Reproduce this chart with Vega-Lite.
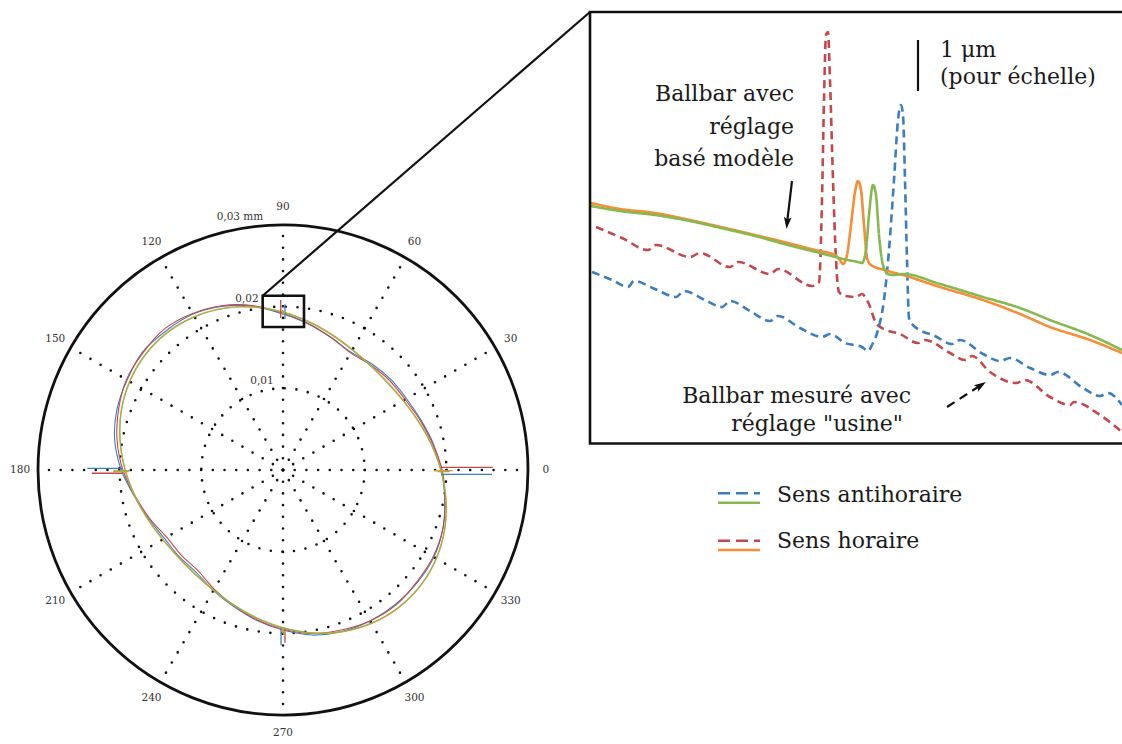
{
"$schema": "https://vega.github.io/schema/vega-lite/v6.json",
"width": 1122, "height": 744, "autosize": {"type": "none"}, "padding": 0,
"background": "white",
"config": {"view": {"stroke": null}, "font": "DejaVu Serif"},
"datasets": {
"polar": [
{"s":"anti_usine","i":0,"x":19.40,"y":0},{"s":"anti_usine","i":1,"x":18.40,"y":3.25},{"s":"anti_usine","i":2,"x":16.88,"y":6.14},{"s":"anti_usine","i":3,"x":15.12,"y":8.73},{"s":"anti_usine","i":4,"x":13.21,"y":11.09},{"s":"anti_usine","i":5,"x":10.89,"y":12.98},{"s":"anti_usine","i":6,"x":8.33,"y":14.43},{"s":"anti_usine","i":7,"x":5.90,"y":16.22},{"s":"anti_usine","i":8,"x":3.15,"y":17.86},{"s":"anti_usine","i":9,"x":0,"y":19.10},{"s":"anti_usine","i":10,"x":-3.54,"y":20.02},{"s":"anti_usine","i":11,"x":-7.30,"y":20.06},{"s":"anti_usine","i":12,"x":-11.02,"y":19.09},{"s":"anti_usine","i":13,"x":-14.31,"y":17.05},{"s":"anti_usine","i":14,"x":-17.20,"y":14.44},{"s":"anti_usine","i":15,"x":-19.09,"y":11.02},{"s":"anti_usine","i":16,"x":-20.34,"y":7.40},{"s":"anti_usine","i":17,"x":-20.61,"y":3.64},{"s":"anti_usine","i":18,"x":-19.80,"y":0},{"s":"anti_usine","i":19,"x":-18.20,"y":-3.22},{"s":"anti_usine","i":20,"x":-16.41,"y":-5.97},{"s":"anti_usine","i":21,"x":-14.51,"y":-8.38},{"s":"anti_usine","i":22,"x":-12.67,"y":-10.64},{"s":"anti_usine","i":23,"x":-10.57,"y":-12.59},{"s":"anti_usine","i":24,"x":-8.53,"y":-14.77},{"s":"anti_usine","i":25,"x":-6.07,"y":-16.69},{"s":"anti_usine","i":26,"x":-3.25,"y":-18.40},{"s":"anti_usine","i":27,"x":0,"y":-19.60},{"s":"anti_usine","i":28,"x":3.57,"y":-20.21},{"s":"anti_usine","i":29,"x":7.20,"y":-19.78},{"s":"anti_usine","i":30,"x":10.67,"y":-18.48},{"s":"anti_usine","i":31,"x":13.80,"y":-16.44},{"s":"anti_usine","i":32,"x":16.44,"y":-13.80},{"s":"anti_usine","i":33,"x":18.48,"y":-10.67},{"s":"anti_usine","i":34,"x":19.59,"y":-7.13},{"s":"anti_usine","i":35,"x":19.82,"y":-3.50},
{"s":"hor_usine","i":0,"x":19.50,"y":0},{"s":"hor_usine","i":1,"x":18.30,"y":3.23},{"s":"hor_usine","i":2,"x":16.79,"y":6.11},{"s":"hor_usine","i":3,"x":14.95,"y":8.63},{"s":"hor_usine","i":4,"x":13.05,"y":10.96},{"s":"hor_usine","i":5,"x":10.76,"y":12.82},{"s":"hor_usine","i":6,"x":8.28,"y":14.34},{"s":"hor_usine","i":7,"x":5.90,"y":16.22},{"s":"hor_usine","i":8,"x":3.16,"y":17.91},{"s":"hor_usine","i":9,"x":0,"y":19.20},{"s":"hor_usine","i":10,"x":-3.55,"y":20.11},{"s":"hor_usine","i":11,"x":-7.33,"y":20.15},{"s":"hor_usine","i":12,"x":-11.07,"y":19.17},{"s":"hor_usine","i":13,"x":-14.51,"y":17.28},{"s":"hor_usine","i":14,"x":-17.13,"y":14.38},{"s":"hor_usine","i":15,"x":-19.17,"y":11.07},{"s":"hor_usine","i":16,"x":-20.15,"y":7.33},{"s":"hor_usine","i":17,"x":-20.31,"y":3.59},{"s":"hor_usine","i":18,"x":-19.60,"y":0},{"s":"hor_usine","i":19,"x":-18.10,"y":-3.20},{"s":"hor_usine","i":20,"x":-16.32,"y":-5.94},{"s":"hor_usine","i":21,"x":-14.25,"y":-8.23},{"s":"hor_usine","i":22,"x":-12.44,"y":-10.44},{"s":"hor_usine","i":23,"x":-10.38,"y":-12.36},{"s":"hor_usine","i":24,"x":-8.43,"y":-14.60},{"s":"hor_usine","i":25,"x":-6.04,"y":-16.60},{"s":"hor_usine","i":26,"x":-3.23,"y":-18.30},{"s":"hor_usine","i":27,"x":0,"y":-19.50},{"s":"hor_usine","i":28,"x":3.54,"y":-20.02},{"s":"hor_usine","i":29,"x":7.13,"y":-19.59},{"s":"hor_usine","i":30,"x":10.67,"y":-18.48},{"s":"hor_usine","i":31,"x":13.86,"y":-16.52},{"s":"hor_usine","i":32,"x":16.36,"y":-13.73},{"s":"hor_usine","i":33,"x":18.39,"y":-10.62},{"s":"hor_usine","i":34,"x":19.59,"y":-7.13},{"s":"hor_usine","i":35,"x":19.82,"y":-3.50},
{"s":"hor_modele","i":0,"x":19.35,"y":0},{"s":"hor_modele","i":1,"x":18.15,"y":3.25},{"s":"hor_modele","i":2,"x":16.56,"y":6.06},{"s":"hor_modele","i":3,"x":14.74,"y":8.53},{"s":"hor_modele","i":4,"x":12.80,"y":10.75},{"s":"hor_modele","i":5,"x":10.75,"y":12.80},{"s":"hor_modele","i":6,"x":8.53,"y":14.74},{"s":"hor_modele","i":7,"x":6.06,"y":16.56},{"s":"hor_modele","i":8,"x":3.25,"y":18.15},{"s":"hor_modele","i":9,"x":0,"y":19.35},{"s":"hor_modele","i":10,"x":-3.57,"y":19.97},{"s":"hor_modele","i":11,"x":-7.25,"y":19.83},{"s":"hor_modele","i":12,"x":-10.87,"y":18.79},{"s":"hor_modele","i":13,"x":-14.17,"y":16.87},{"s":"hor_modele","i":14,"x":-16.87,"y":14.17},{"s":"hor_modele","i":15,"x":-18.79,"y":10.87},{"s":"hor_modele","i":16,"x":-19.83,"y":7.25},{"s":"hor_modele","i":17,"x":-19.97,"y":3.57},{"s":"hor_modele","i":18,"x":-19.35,"y":0},{"s":"hor_modele","i":19,"x":-18.15,"y":-3.25},{"s":"hor_modele","i":20,"x":-16.56,"y":-6.06},{"s":"hor_modele","i":21,"x":-14.74,"y":-8.53},{"s":"hor_modele","i":22,"x":-12.80,"y":-10.75},{"s":"hor_modele","i":23,"x":-10.75,"y":-12.80},{"s":"hor_modele","i":24,"x":-8.53,"y":-14.74},{"s":"hor_modele","i":25,"x":-6.06,"y":-16.56},{"s":"hor_modele","i":26,"x":-3.25,"y":-18.15},{"s":"hor_modele","i":27,"x":0,"y":-19.35},{"s":"hor_modele","i":28,"x":3.57,"y":-19.97},{"s":"hor_modele","i":29,"x":7.25,"y":-19.83},{"s":"hor_modele","i":30,"x":10.87,"y":-18.79},{"s":"hor_modele","i":31,"x":14.17,"y":-16.87},{"s":"hor_modele","i":32,"x":16.87,"y":-14.17},{"s":"hor_modele","i":33,"x":18.79,"y":-10.87},{"s":"hor_modele","i":34,"x":19.83,"y":-7.25},{"s":"hor_modele","i":35,"x":19.97,"y":-3.57},
{"s":"anti_modele","i":0,"x":19.30,"y":0},{"s":"anti_modele","i":1,"x":18.10,"y":3.20},{"s":"anti_modele","i":2,"x":16.51,"y":6.01},{"s":"anti_modele","i":3,"x":14.69,"y":8.48},{"s":"anti_modele","i":4,"x":12.75,"y":10.70},{"s":"anti_modele","i":5,"x":10.70,"y":12.75},{"s":"anti_modele","i":6,"x":8.48,"y":14.69},{"s":"anti_modele","i":7,"x":6.01,"y":16.51},{"s":"anti_modele","i":8,"x":3.20,"y":18.10},{"s":"anti_modele","i":9,"x":0,"y":19.30},{"s":"anti_modele","i":10,"x":-3.52,"y":19.92},{"s":"anti_modele","i":11,"x":-7.20,"y":19.78},{"s":"anti_modele","i":12,"x":-10.82,"y":18.74},{"s":"anti_modele","i":13,"x":-14.12,"y":16.82},{"s":"anti_modele","i":14,"x":-16.82,"y":14.12},{"s":"anti_modele","i":15,"x":-18.74,"y":10.82},{"s":"anti_modele","i":16,"x":-19.78,"y":7.20},{"s":"anti_modele","i":17,"x":-19.92,"y":3.52},{"s":"anti_modele","i":18,"x":-19.30,"y":0},{"s":"anti_modele","i":19,"x":-18.10,"y":-3.20},{"s":"anti_modele","i":20,"x":-16.51,"y":-6.01},{"s":"anti_modele","i":21,"x":-14.69,"y":-8.48},{"s":"anti_modele","i":22,"x":-12.75,"y":-10.70},{"s":"anti_modele","i":23,"x":-10.70,"y":-12.75},{"s":"anti_modele","i":24,"x":-8.48,"y":-14.69},{"s":"anti_modele","i":25,"x":-6.01,"y":-16.51},{"s":"anti_modele","i":26,"x":-3.20,"y":-18.10},{"s":"anti_modele","i":27,"x":0,"y":-19.30},{"s":"anti_modele","i":28,"x":3.52,"y":-19.92},{"s":"anti_modele","i":29,"x":7.20,"y":-19.78},{"s":"anti_modele","i":30,"x":10.82,"y":-18.74},{"s":"anti_modele","i":31,"x":14.12,"y":-16.82},{"s":"anti_modele","i":32,"x":16.82,"y":-14.12},{"s":"anti_modele","i":33,"x":18.74,"y":-10.82},{"s":"anti_modele","i":34,"x":19.78,"y":-7.20},{"s":"anti_modele","i":35,"x":19.92,"y":-3.52}
],
"spikes": [
{"s":"hor_usine","x1":19.45,"y1":0.33,"x2":25.7,"y2":0.33},
{"s":"anti_usine","x1":19.4,"y1":-0.53,"x2":25.6,"y2":-0.53},
{"s":"hor_modele","x1":18.5,"y1":-0.08,"x2":20.8,"y2":-0.08},
{"s":"anti_modele","x1":18.9,"y1":-0.2,"x2":20.4,"y2":-0.2},
{"s":"anti_usine","x1":-19.6,"y1":0.21,"x2":-23.96,"y2":0.21},
{"s":"hor_usine","x1":-19.55,"y1":-0.4,"x2":-23.42,"y2":-0.4},
{"s":"hor_modele","x1":-18.9,"y1":-0.2,"x2":-20.8,"y2":-0.2},
{"s":"anti_modele","x1":-18.73,"y1":-0.09,"x2":-20.78,"y2":-0.09},
{"s":"hor_usine","x1":-0.28,"y1":18.6,"x2":-0.28,"y2":20.82},
{"s":"anti_usine","x1":0.24,"y1":18.5,"x2":0.24,"y2":20.29},
{"s":"hor_modele","x1":-0.04,"y1":19.0,"x2":-0.04,"y2":19.59},
{"s":"anti_modele","x1":0.12,"y1":19.0,"x2":0.12,"y2":19.55},
{"s":"anti_usine","x1":-0.24,"y1":-19.5,"x2":-0.24,"y2":-21.43},
{"s":"hor_usine","x1":0.24,"y1":-19.4,"x2":0.24,"y2":-21.15},
{"s":"hor_modele","x1":-0.05,"y1":-19.3,"x2":-0.05,"y2":-20.0},
{"s":"anti_modele","x1":0.1,"y1":-19.3,"x2":0.1,"y2":-20.2}
],
"spokes": [
{"a":0,"x1":0,"y1":0,"x2":30,"y2":0},{"a":30,"x1":0,"y1":0,"x2":25.98,"y2":15},{"a":60,"x1":0,"y1":0,"x2":15,"y2":25.98},{"a":90,"x1":0,"y1":0,"x2":0,"y2":30},{"a":120,"x1":0,"y1":0,"x2":-15,"y2":25.98},{"a":150,"x1":0,"y1":0,"x2":-25.98,"y2":15},{"a":180,"x1":0,"y1":0,"x2":-30,"y2":0},{"a":210,"x1":0,"y1":0,"x2":-25.98,"y2":-15},{"a":240,"x1":0,"y1":0,"x2":-15,"y2":-25.98},{"a":270,"x1":0,"y1":0,"x2":0,"y2":-30},{"a":300,"x1":0,"y1":0,"x2":15,"y2":-25.98},{"a":330,"x1":0,"y1":0,"x2":25.98,"y2":-15}
],
"polarText": [
{"t":"0","x":32.2,"y":0},{"t":"30","x":27.89,"y":16.1},{"t":"60","x":16.1,"y":27.89},{"t":"90","x":0,"y":32.2},{"t":"120","x":-16.1,"y":27.89},{"t":"150","x":-27.89,"y":16.1},{"t":"180","x":-32.2,"y":0},{"t":"210","x":-27.89,"y":-16.1},{"t":"240","x":-16.1,"y":-27.89},{"t":"270","x":0,"y":-32.2},{"t":"300","x":16.1,"y":-27.89},{"t":"330","x":27.89,"y":-16.1},
{"t":"0,03 mm","x":-5.27,"y":30.98},{"t":"0,02","x":-4.41,"y":20.94},{"t":"0,01","x":-2.57,"y":10.9}
],
"inset": [
{"s":"hor_usine","i":0,"x":0.12,"y":4.32},{"s":"hor_usine","i":1,"x":0.64,"y":4.10},{"s":"hor_usine","i":2,"x":1.16,"y":3.86},{"s":"hor_usine","i":3,"x":1.32,"y":3.96},{"s":"hor_usine","i":4,"x":2.00,"y":3.72},{"s":"hor_usine","i":5,"x":2.20,"y":3.80},{"s":"hor_usine","i":6,"x":2.80,"y":3.52},{"s":"hor_usine","i":7,"x":2.96,"y":3.62},{"s":"hor_usine","i":8,"x":3.60,"y":3.38},{"s":"hor_usine","i":9,"x":3.76,"y":3.48},{"s":"hor_usine","i":10,"x":4.44,"y":3.14},{"s":"hor_usine","i":11,"x":4.58,"y":3.22},{"s":"hor_usine","i":12,"x":4.64,"y":4.86},{"s":"hor_usine","i":13,"x":4.68,"y":6.86},{"s":"hor_usine","i":14,"x":4.72,"y":8.16},{"s":"hor_usine","i":15,"x":4.76,"y":8.22},{"s":"hor_usine","i":16,"x":4.80,"y":7.26},{"s":"hor_usine","i":17,"x":4.86,"y":5.26},{"s":"hor_usine","i":18,"x":4.92,"y":3.66},{"s":"hor_usine","i":19,"x":4.98,"y":3.02},{"s":"hor_usine","i":20,"x":5.10,"y":2.94},{"s":"hor_usine","i":21,"x":5.32,"y":2.92},{"s":"hor_usine","i":22,"x":5.44,"y":2.98},{"s":"hor_usine","i":23,"x":5.56,"y":2.82},{"s":"hor_usine","i":24,"x":5.72,"y":2.40},{"s":"hor_usine","i":25,"x":5.84,"y":2.30},{"s":"hor_usine","i":26,"x":6.20,"y":2.18},{"s":"hor_usine","i":27,"x":6.56,"y":2.00},{"s":"hor_usine","i":28,"x":6.70,"y":2.06},{"s":"hor_usine","i":29,"x":7.20,"y":1.80},{"s":"hor_usine","i":30,"x":7.50,"y":1.66},{"s":"hor_usine","i":31,"x":7.64,"y":1.74},{"s":"hor_usine","i":32,"x":8.00,"y":1.42},{"s":"hor_usine","i":33,"x":8.52,"y":1.20},{"s":"hor_usine","i":34,"x":8.70,"y":1.26},{"s":"hor_usine","i":35,"x":9.20,"y":0.92},{"s":"hor_usine","i":36,"x":9.60,"y":0.76},{"s":"hor_usine","i":37,"x":9.68,"y":0.82},{"s":"hor_usine","i":38,"x":10.20,"y":0.56},{"s":"hor_usine","i":39,"x":10.64,"y":0.22},
{"s":"anti_usine","i":0,"x":0.04,"y":3.42},{"s":"anti_usine","i":1,"x":0.44,"y":3.26},{"s":"anti_usine","i":2,"x":0.76,"y":3.12},{"s":"anti_usine","i":3,"x":0.88,"y":3.24},{"s":"anti_usine","i":4,"x":1.30,"y":3.08},{"s":"anti_usine","i":5,"x":1.72,"y":2.92},{"s":"anti_usine","i":6,"x":1.88,"y":3.04},{"s":"anti_usine","i":7,"x":2.30,"y":2.86},{"s":"anti_usine","i":8,"x":2.64,"y":2.72},{"s":"anti_usine","i":9,"x":2.80,"y":2.84},{"s":"anti_usine","i":10,"x":3.20,"y":2.64},{"s":"anti_usine","i":11,"x":3.60,"y":2.44},{"s":"anti_usine","i":12,"x":3.76,"y":2.54},{"s":"anti_usine","i":13,"x":4.20,"y":2.30},{"s":"anti_usine","i":14,"x":4.64,"y":2.12},{"s":"anti_usine","i":15,"x":4.80,"y":2.18},{"s":"anti_usine","i":16,"x":5.10,"y":2.00},{"s":"anti_usine","i":17,"x":5.44,"y":1.92},{"s":"anti_usine","i":18,"x":5.56,"y":1.84},{"s":"anti_usine","i":19,"x":5.64,"y":1.96},{"s":"anti_usine","i":20,"x":5.76,"y":2.26},{"s":"anti_usine","i":21,"x":5.88,"y":2.86},{"s":"anti_usine","i":22,"x":5.98,"y":3.86},{"s":"anti_usine","i":23,"x":6.08,"y":5.26},{"s":"anti_usine","i":24,"x":6.16,"y":6.46},{"s":"anti_usine","i":25,"x":6.22,"y":6.76},{"s":"anti_usine","i":26,"x":6.26,"y":6.56},{"s":"anti_usine","i":27,"x":6.30,"y":5.26},{"s":"anti_usine","i":28,"x":6.34,"y":3.66},{"s":"anti_usine","i":29,"x":6.38,"y":2.50},{"s":"anti_usine","i":30,"x":6.48,"y":2.34},{"s":"anti_usine","i":31,"x":6.90,"y":2.14},{"s":"anti_usine","i":32,"x":7.24,"y":1.98},{"s":"anti_usine","i":33,"x":7.40,"y":2.06},{"s":"anti_usine","i":34,"x":7.86,"y":1.78},{"s":"anti_usine","i":35,"x":8.20,"y":1.64},{"s":"anti_usine","i":36,"x":8.40,"y":1.70},{"s":"anti_usine","i":37,"x":8.80,"y":1.50},{"s":"anti_usine","i":38,"x":9.20,"y":1.36},{"s":"anti_usine","i":39,"x":9.36,"y":1.42},{"s":"anti_usine","i":40,"x":9.86,"y":1.10},{"s":"anti_usine","i":41,"x":10.20,"y":0.94},{"s":"anti_usine","i":42,"x":10.36,"y":1.00},{"s":"anti_usine","i":43,"x":10.64,"y":0.76},
{"s":"hor_modele","i":0,"x":0.02,"y":4.80},{"s":"hor_modele","i":1,"x":0.60,"y":4.68},{"s":"hor_modele","i":2,"x":1.30,"y":4.60},{"s":"hor_modele","i":3,"x":2.00,"y":4.46},{"s":"hor_modele","i":4,"x":2.62,"y":4.32},{"s":"hor_modele","i":5,"x":3.30,"y":4.16},{"s":"hor_modele","i":6,"x":3.96,"y":4.00},{"s":"hor_modele","i":7,"x":4.50,"y":3.86},{"s":"hor_modele","i":8,"x":4.90,"y":3.76},{"s":"hor_modele","i":9,"x":5.00,"y":3.66},{"s":"hor_modele","i":10,"x":5.06,"y":3.58},{"s":"hor_modele","i":11,"x":5.14,"y":3.76},{"s":"hor_modele","i":12,"x":5.22,"y":4.36},{"s":"hor_modele","i":13,"x":5.30,"y":5.02},{"s":"hor_modele","i":14,"x":5.36,"y":5.24},{"s":"hor_modele","i":15,"x":5.42,"y":5.06},{"s":"hor_modele","i":16,"x":5.48,"y":4.36},{"s":"hor_modele","i":17,"x":5.54,"y":3.70},{"s":"hor_modele","i":18,"x":5.62,"y":3.56},{"s":"hor_modele","i":19,"x":5.90,"y":3.46},{"s":"hor_modele","i":20,"x":6.26,"y":3.36},{"s":"hor_modele","i":21,"x":7.00,"y":3.12},{"s":"hor_modele","i":22,"x":7.86,"y":2.86},{"s":"hor_modele","i":23,"x":8.60,"y":2.58},{"s":"hor_modele","i":24,"x":9.20,"y":2.32},{"s":"hor_modele","i":25,"x":10.00,"y":2.06},{"s":"hor_modele","i":26,"x":10.64,"y":1.80},
{"s":"anti_modele","i":0,"x":0.02,"y":4.74},{"s":"anti_modele","i":1,"x":0.60,"y":4.64},{"s":"anti_modele","i":2,"x":1.30,"y":4.56},{"s":"anti_modele","i":3,"x":2.00,"y":4.44},{"s":"anti_modele","i":4,"x":2.62,"y":4.30},{"s":"anti_modele","i":5,"x":3.30,"y":4.14},{"s":"anti_modele","i":6,"x":3.96,"y":3.96},{"s":"anti_modele","i":7,"x":4.60,"y":3.80},{"s":"anti_modele","i":8,"x":5.16,"y":3.66},{"s":"anti_modele","i":9,"x":5.36,"y":3.62},{"s":"anti_modele","i":10,"x":5.44,"y":3.60},{"s":"anti_modele","i":11,"x":5.52,"y":3.86},{"s":"anti_modele","i":12,"x":5.58,"y":4.56},{"s":"anti_modele","i":13,"x":5.66,"y":5.16},{"s":"anti_modele","i":14,"x":5.72,"y":4.96},{"s":"anti_modele","i":15,"x":5.78,"y":4.16},{"s":"anti_modele","i":16,"x":5.86,"y":3.56},{"s":"anti_modele","i":17,"x":5.96,"y":3.38},{"s":"anti_modele","i":18,"x":6.08,"y":3.36},{"s":"anti_modele","i":19,"x":6.26,"y":3.38},{"s":"anti_modele","i":20,"x":7.00,"y":3.18},{"s":"anti_modele","i":21,"x":7.86,"y":2.92},{"s":"anti_modele","i":22,"x":8.60,"y":2.70},{"s":"anti_modele","i":23,"x":9.20,"y":2.46},{"s":"anti_modele","i":24,"x":10.00,"y":2.16},{"s":"anti_modele","i":25,"x":10.64,"y":1.86}
],
"legendRows": [
{"s":"anti_usine","x1":2.56,"x2":3.40,"y":-1.006},
{"s":"anti_modele","x1":2.56,"x2":3.40,"y":-1.194},
{"s":"hor_usine","x1":2.56,"x2":3.40,"y":-1.954},
{"s":"hor_modele","x1":2.56,"x2":3.40,"y":-2.14}
]
},
"layer": [
{
"layer": [
{"data": {"values": [{"r":10,"x":0,"y":0},{"r":20,"x":0,"y":0}]},
 "mark": {"type":"point","shape":"circle","filled":false,"opacity":1,"color":"#111","strokeWidth":2.6,"strokeDash":[0,11.7],"strokeCap":"round"},
 "encoding": {"x":{"field":"x","type":"quantitative","scale":{"domain":[-30,30],"range":[38,528],"nice":false},"axis":null},
  "y":{"field":"y","type":"quantitative","scale":{"domain":[-30,30],"range":[715,225],"nice":false},"axis":null},
  "size":{"field":"r","type":"quantitative","scale":{"type":"pow","exponent":2,"domain":[0,30],"range":[0,240100]},"legend":null}}},
{"data": {"values": [{"r":30,"x":0,"y":0}]},
 "mark": {"type":"point","shape":"circle","filled":false,"opacity":1,"color":"#111","strokeWidth":2.8},
 "encoding": {"x":{"field":"x","type":"quantitative","axis":null},"y":{"field":"y","type":"quantitative","axis":null},
  "size":{"field":"r","type":"quantitative","legend":null}}},
{"data": {"name":"spokes"},
 "mark": {"type":"rule","color":"#111","strokeWidth":2.6,"strokeDash":[0,11.7],"strokeCap":"round"},
 "encoding": {"x":{"field":"x1","type":"quantitative","axis":null},"y":{"field":"y1","type":"quantitative","axis":null},"x2":{"field":"x2"},"y2":{"field":"y2"}}},
{"data": {"name":"polarText"},
 "mark": {"type":"text","font":"DejaVu Serif","fontSize":10.5,"color":"#333","align":"center","baseline":"middle"},
 "encoding": {"x":{"field":"x","type":"quantitative","axis":null},"y":{"field":"y","type":"quantitative","axis":null},"text":{"field":"t"}}},
{"data": {"name":"polar"},
 "mark": {"type":"line","interpolate":"cardinal-closed","strokeWidth":1.1},
 "encoding": {"x":{"field":"x","type":"quantitative","axis":null},"y":{"field":"y","type":"quantitative","axis":null},"order":{"field":"i"},
  "color":{"field":"s","type":"nominal","scale":{"domain":["anti_usine","hor_usine","anti_modele","hor_modele"],"range":["#3b7dc0","#c4474b","#85b94f","#f98c35"]},"legend":null}}},
{"data": {"name":"spikes"},
 "mark": {"type":"rule","strokeWidth":1.3},
 "encoding": {"x":{"field":"x1","type":"quantitative","axis":null},"y":{"field":"y1","type":"quantitative","axis":null},"x2":{"field":"x2"},"y2":{"field":"y2"},
  "color":{"field":"s","type":"nominal","legend":null}}},
{"data": {"values": [{"x1":-2.49,"x2":2.57,"y1":17.51,"y2":21.34}]},
 "mark": {"type":"rect","filled":false,"color":"#111","strokeWidth":2.6},
 "encoding": {"x":{"field":"x1","type":"quantitative","axis":null},"y":{"field":"y1","type":"quantitative","axis":null},"x2":{"field":"x2"},"y2":{"field":"y2"}}},
{"data": {"values": [{"x1":-2.49,"y1":21.34,"x2":37.59,"y2":56.08}]},
 "mark": {"type":"rule","color":"#111","strokeWidth":2.2},
 "encoding": {"x":{"field":"x1","type":"quantitative","axis":null},"y":{"field":"y1","type":"quantitative","axis":null},"x2":{"field":"x2"},"y2":{"field":"y2"}}}
]
},
{
"layer": [
{"data": {"name":"inset"},
 "mark": {"type":"line","interpolate":"monotone","strokeWidth":2.6},
 "encoding": {"x":{"field":"x","type":"quantitative","scale":{"domain":[0,10.64],"range":[590,1122],"nice":false},"axis":null},
  "y":{"field":"y","type":"quantitative","scale":{"domain":[0,8.62],"range":[443,12],"nice":false},"axis":null},
  "order":{"field":"i"},
  "color":{"field":"s","type":"nominal","legend":null},
  "strokeDash":{"field":"s","type":"nominal","scale":{"domain":["anti_usine","hor_usine","anti_modele","hor_modele"],"range":[[8,5],[8,5],[1,0],[1,0]]},"legend":null}}},
{"data": {"values": [{"x1":0,"x2":10.7,"y1":-0.01,"y2":8.62}]},
 "mark": {"type":"rect","filled":false,"color":"#111","strokeWidth":2.6},
 "encoding": {"x":{"field":"x1","type":"quantitative","axis":null},"y":{"field":"y1","type":"quantitative","axis":null},"x2":{"field":"x2"},"y2":{"field":"y2"}}},
{"data": {"values": [{"x":6.56,"y1":7.04,"y2":8.06}]},
 "mark": {"type":"rule","color":"#111","strokeWidth":2.2},
 "encoding": {"x":{"field":"x","type":"quantitative","axis":null},"y":{"field":"y1","type":"quantitative","axis":null},"y2":{"field":"y2"}}},
{"data": {"values": [{"t":"Ballbar avec\nréglage\nbasé modèle","x":4.08,"y":6.84},{"t":"Ballbar mesuré avec","x":6.42,"y":0.806},{"t":"réglage \"usine\"","x":6.26,"y":0.24}]},
 "mark": {"type":"text","font":"DejaVu Serif","fontSize":22,"lineBreak":"\n","lineHeight":32.5,"color":"#1a1a1a","align":"right","baseline":"alphabetic"},
 "encoding": {"x":{"field":"x","type":"quantitative","axis":null},"y":{"field":"y","type":"quantitative","axis":null},"text":{"field":"t"}}},
{"data": {"values": [{"t":"1 μm\n(pour échelle)","x":7.0,"y":7.73},{"t":"Sens antihoraire","x":3.74,"y":-1.174},{"t":"Sens horaire","x":3.74,"y":-2.094}]},
 "mark": {"type":"text","font":"DejaVu Serif","fontSize":22,"lineBreak":"\n","lineHeight":27.5,"color":"#1a1a1a","align":"left","baseline":"alphabetic"},
 "encoding": {"x":{"field":"x","type":"quantitative","axis":null},"y":{"field":"y","type":"quantitative","axis":null},"text":{"field":"t"}}},
{"data": {"values": [{"x1":4.04,"y1":5.24,"x2":3.945,"y2":4.44}]},
 "mark": {"type":"rule","color":"#111","strokeWidth":2.2},
 "encoding": {"x":{"field":"x1","type":"quantitative","axis":null},"y":{"field":"y1","type":"quantitative","axis":null},"x2":{"field":"x2"},"y2":{"field":"y2"}}},
{"data": {"values": [{"x1":7.14,"y1":0.72,"x2":7.76,"y2":1.12}]},
 "mark": {"type":"rule","color":"#111","strokeWidth":2.2,"strokeDash":[9,6]},
 "encoding": {"x":{"field":"x1","type":"quantitative","axis":null},"y":{"field":"y1","type":"quantitative","axis":null},"x2":{"field":"x2"},"y2":{"field":"y2"}}},
{"data": {"values": [{"x":3.945,"y":4.42}]},
 "mark": {"type":"point","shape":"M0,-1L0.55,0.7L0,0.35L-0.55,0.7Z","filled":true,"opacity":1,"color":"#111","size":196,"angle":186,"strokeWidth":0},
 "encoding": {"x":{"field":"x","type":"quantitative","axis":null},"y":{"field":"y","type":"quantitative","axis":null}}},
{"data": {"values": [{"x":7.80,"y":1.144}]},
 "mark": {"type":"point","shape":"M0,-1L0.55,0.7L0,0.35L-0.55,0.7Z","filled":true,"opacity":1,"color":"#111","size":196,"angle":57,"strokeWidth":0},
 "encoding": {"x":{"field":"x","type":"quantitative","axis":null},"y":{"field":"y","type":"quantitative","axis":null}}},
{"data": {"name":"legendRows"},
 "transform": [{"filter":"datum.s == 'anti_usine' || datum.s == 'hor_usine'"}],
 "mark": {"type":"rule","strokeWidth":2.6,"strokeDash":[12,6]},
 "encoding": {"x":{"field":"x1","type":"quantitative","axis":null},"x2":{"field":"x2"},"y":{"field":"y","type":"quantitative","axis":null},
  "color":{"field":"s","type":"nominal","legend":null}}},
{"data": {"name":"legendRows"},
 "transform": [{"filter":"datum.s == 'anti_modele' || datum.s == 'hor_modele'"}],
 "mark": {"type":"rule","strokeWidth":2.6},
 "encoding": {"x":{"field":"x1","type":"quantitative","axis":null},"x2":{"field":"x2"},"y":{"field":"y","type":"quantitative","axis":null},
  "color":{"field":"s","type":"nominal","legend":null}}}
]
}
],
"resolve": {"scale": {"x":"independent","y":"independent"}}
}
